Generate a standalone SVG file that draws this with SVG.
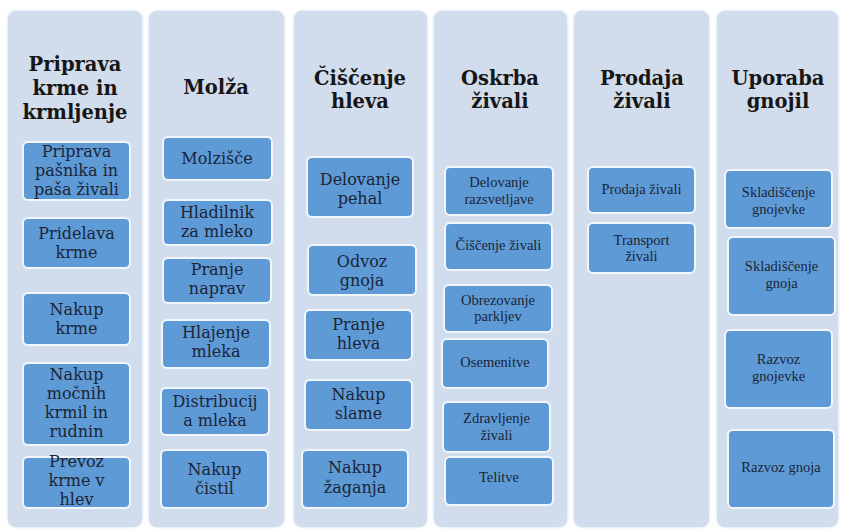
<svg xmlns="http://www.w3.org/2000/svg" width="844" height="531" viewBox="0 0 844 531">
<style>
.bg{fill:#d1dcec;stroke:#f4f7fb;stroke-width:1.5}
.bx{fill:#5e9bd6;stroke:#f2f7fd;stroke-width:2}
.h{font-family:"DejaVu Serif","Liberation Serif",serif;font-weight:bold;font-size:19.5px;fill:#161616;text-anchor:middle}
.t{font-family:"DejaVu Serif","Liberation Serif",serif;font-size:16px;fill:#1c2436;text-anchor:middle}
.s{font-family:"Liberation Serif",serif;font-size:14.5px;fill:#1c2436;text-anchor:middle}
</style>
<rect x="0" y="0" width="844" height="531" fill="#ffffff"/>
<g id="col1">
<rect class="bg" x="7" y="10" width="136" height="518" rx="9"/>
<text class="h" x="75" y="71">Priprava</text>
<text class="h" x="75" y="95">krme in</text>
<text class="h" x="75" y="119">krmljenje</text>
</g>
<g id="col2">
<rect class="bg" x="148" y="10" width="137" height="518" rx="9"/>
<text class="h" x="216" y="94">Molža</text>
</g>
<g id="col3">
<rect class="bg" x="293" y="10" width="135" height="518" rx="9"/>
<text class="h" x="360" y="85">Čiščenje</text>
<text class="h" x="360" y="108">hleva</text>
</g>
<g id="col4">
<rect class="bg" x="433" y="10" width="135" height="518" rx="9"/>
<text class="h" x="500" y="85">Oskrba</text>
<text class="h" x="500" y="108">živali</text>
</g>
<g id="col5">
<rect class="bg" x="573" y="10" width="137" height="518" rx="9"/>
<text class="h" x="642" y="85">Prodaja</text>
<text class="h" x="642" y="108">živali</text>
</g>
<g id="col6">
<rect class="bg" x="716" y="10" width="123" height="518" rx="9"/>
<text class="h" x="778" y="85">Uporaba</text>
<text class="h" x="778" y="108">gnojil</text>
</g>

<g id="c1b1"><rect class="bx" x="23" y="142" width="107" height="58" rx="5"/>
<text class="t" x="76.5" y="157">Priprava</text><text class="t" x="76.5" y="176">pašnika in</text><text class="t" x="76.5" y="195">paša živali</text></g>
<g id="c1b2"><rect class="bx" x="23" y="218" width="107" height="50" rx="5"/>
<text class="t" x="76.5" y="239">Pridelava</text><text class="t" x="76.5" y="258">krme</text></g>
<g id="c1b3"><rect class="bx" x="23" y="293" width="107" height="52" rx="5"/>
<text class="t" x="76.5" y="315">Nakup</text><text class="t" x="76.5" y="334">krme</text></g>
<g id="c1b4"><rect class="bx" x="23" y="363" width="107" height="82" rx="5"/>
<text class="t" x="76.5" y="380">Nakup</text><text class="t" x="76.5" y="399">močnih</text><text class="t" x="76.5" y="418">krmil in</text><text class="t" x="76.5" y="437">rudnin</text></g>
<g id="c1b5"><rect class="bx" x="23" y="457" width="107" height="51" rx="5"/>
<text class="t" x="76.5" y="467">Prevoz</text><text class="t" x="76.5" y="486">krme v</text><text class="t" x="76.5" y="505">hlev</text></g>

<g id="c2b1"><rect class="bx" x="163" y="137" width="109" height="43" rx="5"/>
<text class="t" x="217" y="164">Molzišče</text></g>
<g id="c2b2"><rect class="bx" x="163" y="200" width="109" height="45" rx="5"/>
<text class="t" x="217" y="218">Hladilnik</text><text class="t" x="217" y="237">za mleko</text></g>
<g id="c2b3"><rect class="bx" x="163" y="258" width="108" height="45" rx="5"/>
<text class="t" x="217" y="275">Pranje</text><text class="t" x="217" y="294">naprav</text></g>
<g id="c2b4"><rect class="bx" x="162" y="320" width="108" height="48" rx="5"/>
<text class="t" x="216" y="338">Hlajenje</text><text class="t" x="216" y="357">mleka</text></g>
<g id="c2b5"><rect class="bx" x="161" y="388" width="108" height="47" rx="5"/>
<text class="t" x="215" y="407">Distribucij</text><text class="t" x="215" y="426">a mleka</text></g>
<g id="c2b6"><rect class="bx" x="161" y="450" width="107" height="58" rx="5"/>
<text class="t" x="214.5" y="475">Nakup</text><text class="t" x="214.5" y="494">čistil</text></g>

<g id="c3b1"><rect class="bx" x="307" y="157" width="106" height="60" rx="5"/>
<text class="t" x="360" y="185">Delovanje</text><text class="t" x="360" y="204">pehal</text></g>
<g id="c3b2"><rect class="bx" x="308" y="245" width="108" height="50" rx="5"/>
<text class="t" x="362" y="267">Odvoz</text><text class="t" x="362" y="286">gnoja</text></g>
<g id="c3b3"><rect class="bx" x="305" y="310" width="107" height="50" rx="5"/>
<text class="t" x="358.5" y="330">Pranje</text><text class="t" x="358.5" y="349">hleva</text></g>
<g id="c3b4"><rect class="bx" x="305" y="380" width="107" height="50" rx="5"/>
<text class="t" x="358.5" y="400">Nakup</text><text class="t" x="358.5" y="419">slame</text></g>
<g id="c3b5"><rect class="bx" x="302" y="450" width="106" height="58" rx="5"/>
<text class="t" x="355" y="473">Nakup</text><text class="t" x="355" y="493">žaganja</text></g>

<g id="c4b1"><rect class="bx" x="445" y="167" width="108" height="48" rx="5"/>
<text class="s" x="499" y="187">Delovanje</text><text class="s" x="499" y="204">razsvetljave</text></g>
<g id="c4b2"><rect class="bx" x="445" y="223" width="107" height="47" rx="5"/>
<text class="s" x="498.5" y="250">Čiščenje živali</text></g>
<g id="c4b3"><rect class="bx" x="444" y="285" width="108" height="47" rx="5"/>
<text class="s" x="498" y="305">Obrezovanje</text><text class="s" x="498" y="321">parkljev</text></g>
<g id="c4b4"><rect class="bx" x="442" y="339" width="106" height="49" rx="5"/>
<text class="s" x="495" y="367">Osemenitve</text></g>
<g id="c4b5"><rect class="bx" x="443" y="402" width="107" height="50" rx="5"/>
<text class="s" x="496.5" y="423">Zdravljenje</text><text class="s" x="496.5" y="440">živali</text></g>
<g id="c4b6"><rect class="bx" x="445" y="457" width="108" height="48" rx="5"/>
<text class="s" x="499" y="482">Telitve</text></g>

<g id="c5b1"><rect class="bx" x="588" y="167" width="107" height="46" rx="5"/>
<text class="s" x="641.5" y="194">Prodaja živali</text></g>
<g id="c5b2"><rect class="bx" x="588" y="223" width="107" height="50" rx="5"/>
<text class="s" x="641.5" y="245">Transport</text><text class="s" x="641.5" y="261">živali</text></g>

<g id="c6b1"><rect class="bx" x="725" y="170" width="107" height="58" rx="5"/>
<text class="s" x="778.5" y="197">Skladiščenje</text><text class="s" x="778.5" y="214">gnojevke</text></g>
<g id="c6b2"><rect class="bx" x="728" y="237" width="107" height="78" rx="5"/>
<text class="s" x="781.5" y="271">Skladiščenje</text><text class="s" x="781.5" y="288">gnoja</text></g>
<g id="c6b3"><rect class="bx" x="725" y="330" width="107" height="78" rx="5"/>
<text class="s" x="778.5" y="364">Razvoz</text><text class="s" x="778.5" y="381">gnojevke</text></g>
<g id="c6b4"><rect class="bx" x="728" y="430" width="106" height="78" rx="5"/>
<text class="s" x="781" y="472">Razvoz gnoja</text></g>
<g id="connectors"></g>
</svg>
